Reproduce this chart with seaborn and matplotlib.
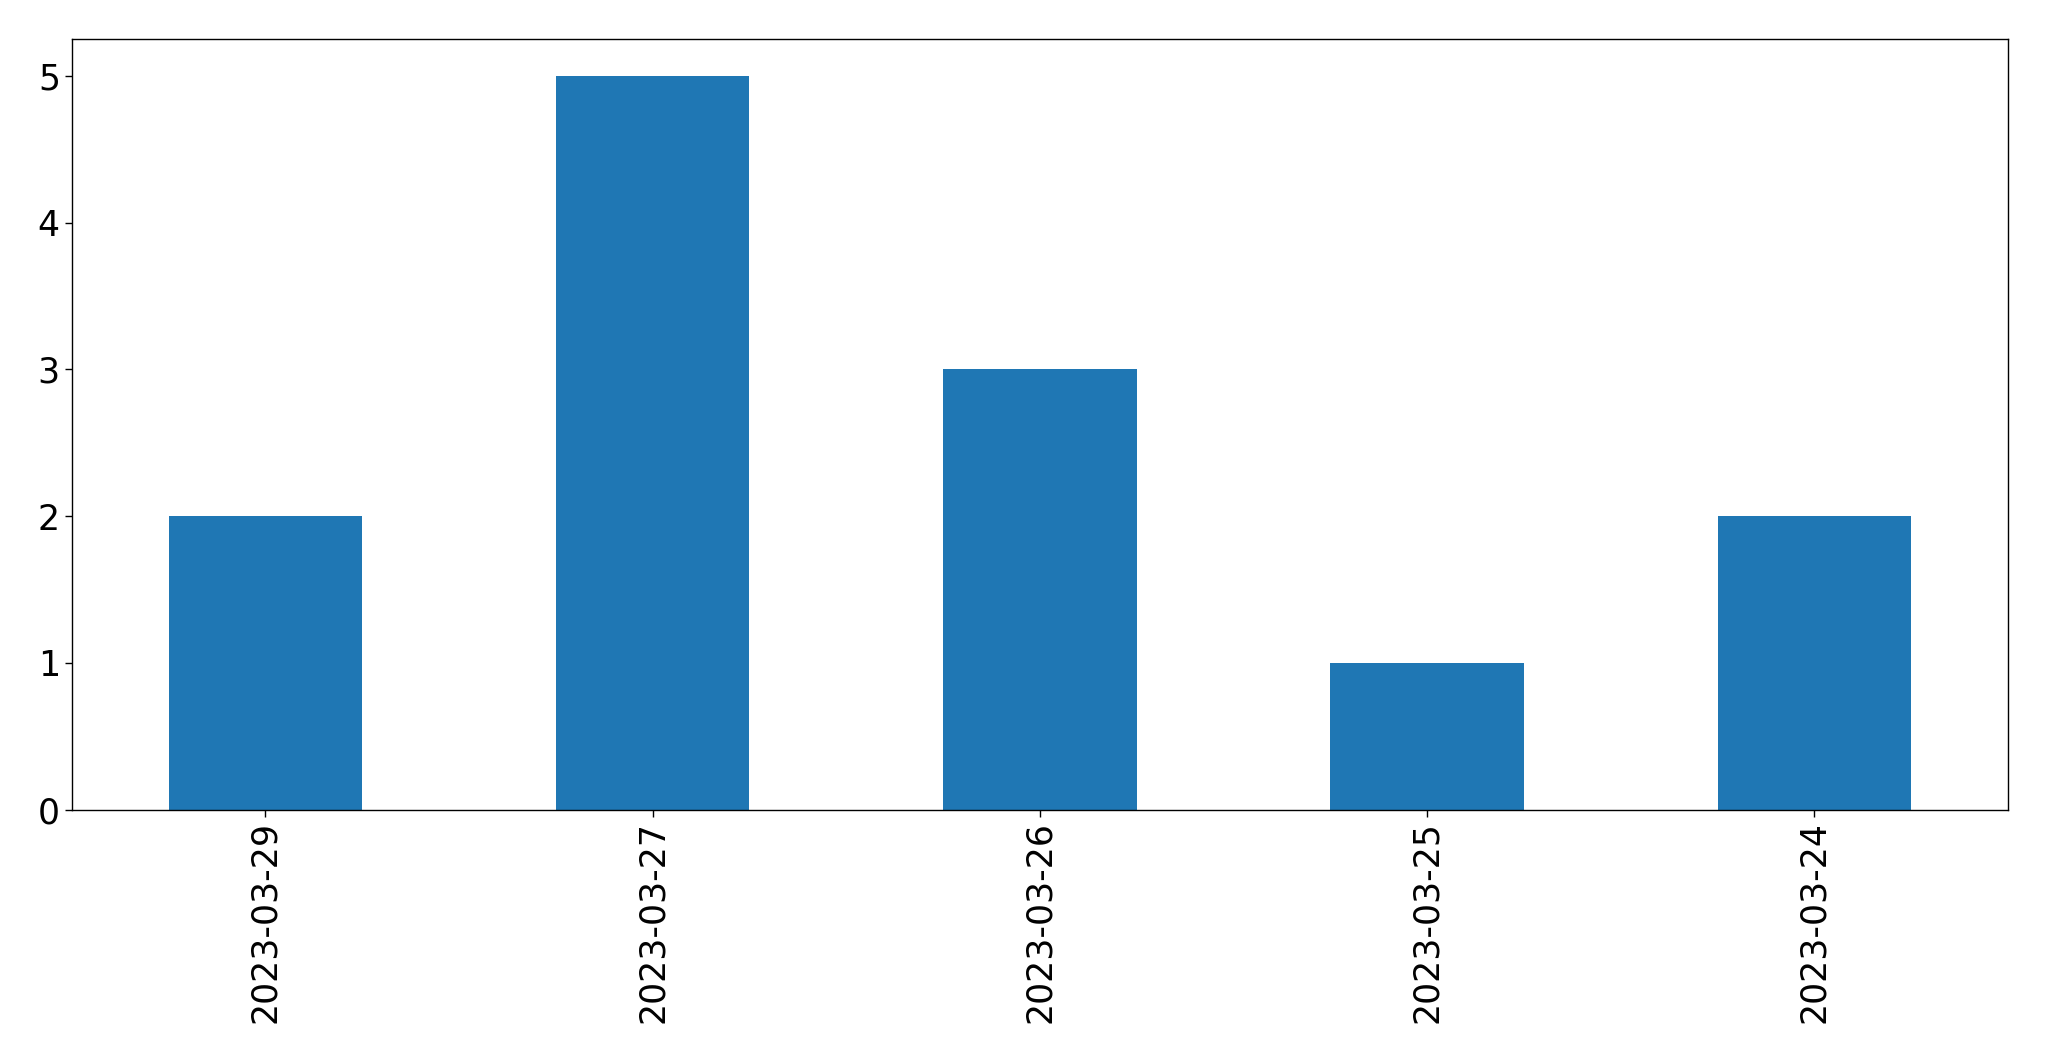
import pandas as pd
import matplotlib
matplotlib.use("Agg")
import matplotlib.pyplot as plt
import seaborn as sns

# data
dates = ["2023-03-29", "2023-03-27", "2023-03-26", "2023-03-25", "2023-03-24"]
counts = [2, 5, 3, 1, 2]

df = pd.DataFrame({"date": dates, "count": counts})

sns.set_style("ticks")
plt.rcParams["font.family"] = ["DejaVu Sans"]

fig, ax = plt.subplots(figsize=(20.49, 10.61), dpi=100)
sns.barplot(x="date", y="count", data=df, color="#1f77b4", saturation=1,
            width=0.5, ax=ax, order=dates, linewidth=0)

ax.set_xlabel("")
ax.set_ylabel("")
ax.set_xlim(-0.5, len(dates) - 0.5)
ax.set_ylim(0, 5.25)
ax.tick_params(axis="both", labelsize=25, length=5, width=1,
               colors="black", labelcolor="black")
plt.setp(ax.get_xticklabels(), rotation=90)
for s in ax.spines.values():
    s.set_visible(True)
    s.set_linewidth(1)
    s.set_color("black")

plt.subplots_adjust(left=0.035, right=0.980, top=0.963, bottom=0.237)
plt.savefig("out.png", dpi=100)
